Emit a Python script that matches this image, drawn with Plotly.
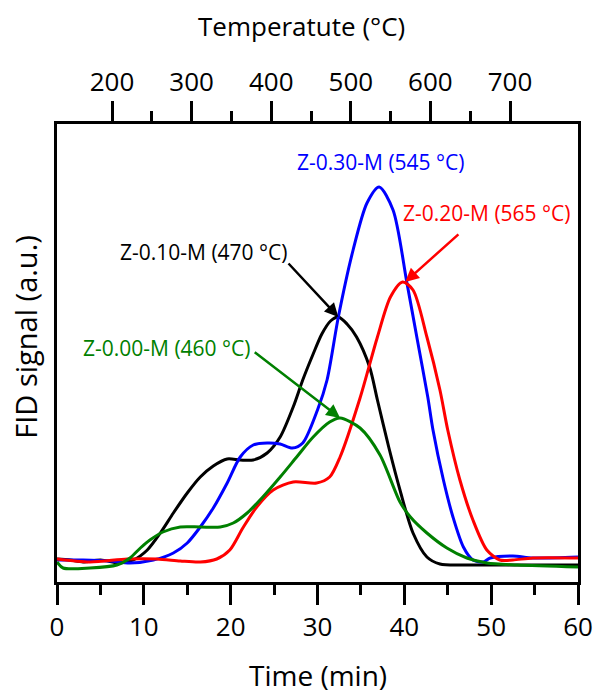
import plotly.graph_objects as go

# ---- data (time in min, FID signal in a.u.) ----
t_010 = [0, 1.5, 3.0, 5.0, 7.3, 8.8, 10.4, 11.9, 13.4, 15.0, 16.5, 18.0, 19.6, 21.1, 22.6, 24.2,
         25.7, 27.2, 28.3, 29.5, 30.5, 31.5, 32.4, 33.4, 34.5, 36.0, 36.9, 38.2, 39.5, 41.0, 42.6,
         44.1, 47.0, 53.0, 60.0]
s_010 = [23, 22, 20, 22, 19, 22, 32, 49, 69, 89, 105, 116, 123, 122, 122, 129,
         145, 175, 202, 228, 248, 261, 265, 258, 245, 215, 182, 135, 92, 49, 25,
         18, 17, 17, 17]

t_030 = [0, 3, 6.1, 8.4, 11.1, 13.4, 15.0, 16.5, 18.0, 19.6, 21.1, 22.6, 24.2, 25.7, 27.1, 28.3,
         30.0, 31.1, 32.4, 34.1, 35.7, 37.1, 38.7, 40.3, 41.5, 42.7, 43.3, 44.5, 45.6, 46.8, 47.9,
         49.1, 49.9, 52.5, 54.8, 60.0]
s_030 = [22, 22, 21, 19, 22, 29, 39, 55, 74, 99, 125, 137, 139, 138, 134, 139,
         172, 202, 265, 332, 379, 395, 372, 299, 242, 185, 152, 102, 65, 35, 22,
         20, 24, 26, 24, 25]

t_020 = [0, 3.8, 8.1, 11.5, 14.2, 16.5, 18.4, 19.9, 21.4, 23.0, 24.9, 27.2, 29.9, 31.4, 32.6,
         34.9, 36.9, 38.4, 39.8, 41.0, 42.6, 44.1, 45.0, 46.4, 47.9, 49.5, 51.0, 52.5, 54.8, 60.0]
s_020 = [23, 20, 23, 23, 21, 20, 23, 32, 54, 75, 92, 100, 99, 105, 125,
         184, 245, 285, 300, 292, 245, 192, 152, 102, 62, 32, 22, 22, 24, 24]

t_000 = [0, 0.7, 3.8, 6.9, 8.4, 9.6, 10.7, 12.2, 14.2, 16.5, 18.8, 20.3, 21.9, 23.7, 25.7, 27.6,
         29.5, 31.4, 32.6, 34.9, 37.2, 39.5, 40.7, 42.6, 44.9, 47.2, 49.5, 53.0, 60.0]
s_000 = [20, 14, 14, 17, 24, 34, 42, 50, 55, 55, 55, 59, 69, 85, 105, 125,
         145, 160, 164, 154, 127, 80, 65, 49, 34, 24, 19, 17, 15]

temp_ticks = [200, 300, 400, 500, 600, 700]
temp_minor = [250, 350, 450, 550, 650]
temp_range = [130.9, 785.4]

series = [
    ("Z-0.10-M", t_010, s_010, "#000000"),
    ("Z-0.30-M", t_030, s_030, "#0000FF"),
    ("Z-0.20-M", t_020, s_020, "#FF0000"),
    ("Z-0.00-M", t_000, s_000, "#008000"),
]

# labels: (text, colour, text position, arrow tail, arrow head)
labels = [
    ("Z-0.30-M (545 °C)", "#0000FF", (37.3, 420), None, None),
    ("Z-0.20-M (565 °C)", "#FF0000", (49.5, 369), (46.4, 349), (40.1, 300)),
    ("Z-0.10-M (470 °C)", "#000000", (16.9, 330), (26.5, 320), (32.4, 265)),
    ("Z-0.00-M (460 °C)", "#008000", (12.7, 234), (22.6, 231), (32.6, 164)),
]

FONT = "Open Sans"

fig = go.Figure()
for name, t, s, c in series:
    fig.add_trace(go.Scatter(x=t, y=s, mode="lines", name=name,
                             line=dict(color=c, width=3, shape="spline", smoothing=0.8),
                             showlegend=False))
# invisible trace tying the temperature axis
fig.add_trace(go.Scatter(x=temp_range, y=[None, None], xaxis="x2", mode="lines",
                         showlegend=False, hoverinfo="skip"))

annotations = []
for text, c, pos, tail, head in labels:
    annotations.append(dict(x=pos[0], y=pos[1], xref="x", yref="y", text=text,
                            showarrow=False, font=dict(family=FONT, size=21, color=c),
                            xanchor="center", yanchor="middle"))
    if tail is not None:
        annotations.append(dict(x=head[0], y=head[1], xref="x", yref="y",
                                ax=tail[0], ay=tail[1], axref="x", ayref="y",
                                text="", showarrow=True, arrowhead=2, arrowsize=1.1,
                                arrowwidth=2.5, arrowcolor=c, standoff=0))

annotations += [
    dict(x=0.47, y=1.213, xref="paper", yref="paper", text="Temperatute (°C)",
         showarrow=False, font=dict(family=FONT, size=26, color="#000"),
         xanchor="center", yanchor="middle"),
    dict(x=0.501, y=-0.249, xref="paper", yref="paper", text="Time (min)",
         showarrow=False, font=dict(family=FONT, size=28, color="#000"),
         xanchor="center", yanchor="bottom"),
    dict(x=-0.06, y=0.535, xref="paper", yref="paper", text="FID signal (a.u.)",
         showarrow=False, textangle=-90, font=dict(family=FONT, size=29, color="#000"),
         xanchor="center", yanchor="middle"),
]

fig.update_layout(
    template="none",
    width=595, height=697,
    margin=dict(l=57, r=17, t=124, b=115, pad=0),
    paper_bgcolor="white", plot_bgcolor="white",
    font=dict(family=FONT, size=26, color="#000"),
    xaxis=dict(range=[0, 60], tickmode="linear", tick0=0, dtick=10, automargin=False,
               ticks="outside", ticklen=20, tickwidth=3, tickcolor="#000",
               minor=dict(ticks="outside", ticklen=10, tickwidth=3, dtick=5, tick0=0,
                          tickcolor="#000", showgrid=False),
               showline=True, linewidth=3, linecolor="#000", showgrid=False,
               zeroline=False, tickfont=dict(family=FONT, size=26)),
    xaxis2=dict(range=temp_range, overlaying="x", side="top", anchor="y", automargin=False,
                tickmode="array", tickvals=temp_ticks, ticktext=[str(v) for v in temp_ticks],
                ticks="outside", ticklen=20, tickwidth=3, tickcolor="#000",
                minor=dict(ticks="outside", ticklen=10, tickwidth=3, tickmode="array",
                           tickvals=temp_minor, tickcolor="#000", showgrid=False),
                showline=True, linewidth=3, linecolor="#000", showgrid=False,
                zeroline=False, tickfont=dict(family=FONT, size=26)),
    yaxis=dict(range=[0, 458], showticklabels=False, ticks="", showgrid=False, automargin=False,
               zeroline=False, showline=True, linewidth=3, linecolor="#000", mirror=True),
    annotations=annotations,
)

fig.write_html("out.html", config={"displayModeBar": False},
               post_script="document.body.style.margin='0';document.body.style.overflow='hidden';")
